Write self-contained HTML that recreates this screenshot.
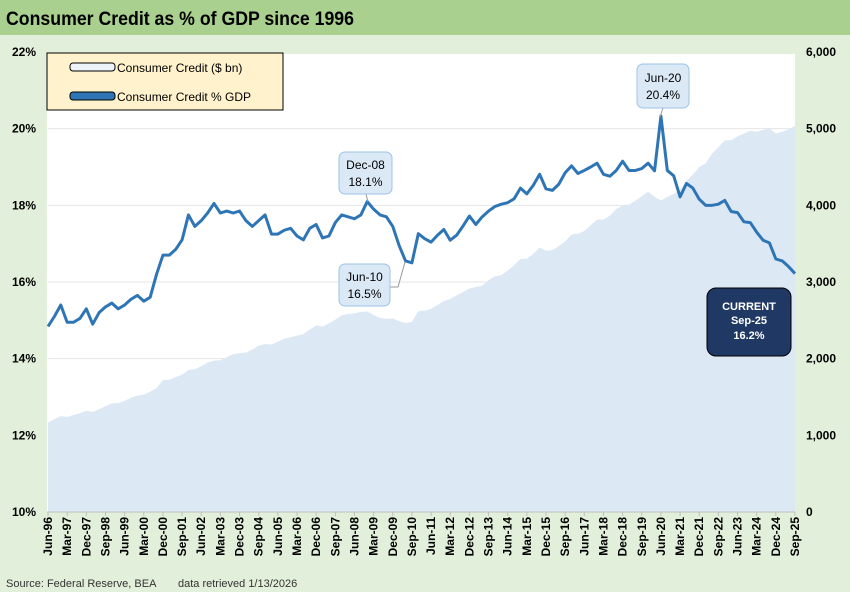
<!DOCTYPE html>
<html><head><meta charset="utf-8"><style>
body{margin:0;background:#e2efda;font-family:"Liberation Sans",sans-serif;}
svg{display:block}
text{font-family:"Liberation Sans",sans-serif;}
</style></head><body>
<svg width="850" height="592" viewBox="0 0 850 592">
<rect x="0" y="0" width="850" height="592" fill="#e2efda"/>
<rect x="0" y="0" width="850" height="35" fill="#a9d08e"/>
<text x="6" y="25" font-size="19" font-weight="bold" fill="#000" textLength="348" lengthAdjust="spacingAndGlyphs">Consumer Credit as % of GDP since 1996</text>
<rect x="47" y="54" width="748" height="458" fill="#fff"/>
<g id="grid"></g>
<path id="area" fill="#dde8f5"/>
<path id="line" fill="none" stroke="#2e75b6" stroke-width="3" stroke-linejoin="round"/>
<g id="axes"></g>
<text x="6" y="587" font-size="11" fill="#333">Source: Federal Reserve, BEA</text>
<text x="178" y="587" font-size="11" fill="#333">data retrieved 1/13/2026</text>
<g>
<rect x="47" y="53" width="236" height="57" fill="#fff2cc" stroke="#000" stroke-width="1"/>
<rect x="70" y="63" width="45" height="8" rx="3" fill="#eef3fa" stroke="#000" stroke-width="1"/>
<text x="117" y="72" font-size="12">Consumer Credit ($ bn)</text>
<rect x="70" y="92" width="45" height="8" rx="3" fill="#2e75b6" stroke="#000" stroke-width="1"/>
<text x="117" y="101" font-size="12">Consumer Credit % GDP</text>
</g>
<g>
<line x1="366" y1="194" x2="368" y2="202" stroke="#999"/>
<rect x="339" y="152" width="53" height="42" rx="6" fill="#dbe8f6" stroke="#9dc3e6"/>
<text x="365.5" y="169" font-size="12" text-anchor="middle">Dec-08</text>
<text x="365.5" y="186" font-size="12" text-anchor="middle">18.1%</text>
</g>
<g>
<polyline points="405,262 398,287 390,287" fill="none" stroke="#999"/>
<rect x="339" y="264" width="51" height="42" rx="6" fill="#dbe8f6" stroke="#9dc3e6"/>
<text x="364.5" y="281" font-size="12" text-anchor="middle">Jun-10</text>
<text x="364.5" y="298" font-size="12" text-anchor="middle">16.5%</text>
</g>
<g>
<line x1="663" y1="108" x2="660" y2="117" stroke="#999"/>
<rect x="637" y="64" width="52" height="44" rx="6" fill="#dbe8f6" stroke="#9dc3e6"/>
<text x="663" y="82" font-size="12" text-anchor="middle">Jun-20</text>
<text x="663" y="99" font-size="12" text-anchor="middle">20.4%</text>
</g>
<g>
<rect x="707" y="288" width="84" height="68" rx="9" fill="#1f3864" stroke="#000"/>
<text x="749" y="310" font-size="11" font-weight="bold" fill="#fff" text-anchor="middle">CURRENT</text>
<text x="749" y="324" font-size="11" font-weight="bold" fill="#fff" text-anchor="middle">Sep-25</text>
<text x="749" y="339" font-size="11" font-weight="bold" fill="#fff" text-anchor="middle">16.2%</text>
</g>
</svg>
<script>
const pctValues=[14.84,15.1,15.4,14.95,14.95,15.05,15.3,14.9,15.2,15.35,15.45,15.3,15.4,15.55,15.65,15.5,15.6,16.2,16.7,16.7,16.85,17.1,17.75,17.45,17.6,17.8,18.05,17.8,17.85,17.8,17.85,17.6,17.45,17.6,17.75,17.25,17.25,17.35,17.4,17.2,17.1,17.4,17.5,17.15,17.2,17.55,17.75,17.7,17.65,17.75,18.1,17.9,17.75,17.7,17.45,16.95,16.55,16.5,17.26,17.13,17.04,17.22,17.37,17.09,17.22,17.46,17.72,17.5,17.7,17.85,17.97,18.03,18.07,18.17,18.45,18.3,18.52,18.81,18.43,18.39,18.55,18.85,19.03,18.83,18.91,19.0,19.1,18.81,18.76,18.91,19.15,18.91,18.91,18.96,19.1,18.9,20.33,18.91,18.77,18.22,18.57,18.45,18.16,18.0,18.0,18.03,18.13,17.84,17.81,17.57,17.55,17.3,17.09,17.02,16.6,16.55,16.4,16.22];
const creditValues=[1165,1210,1250,1240,1265,1290,1320,1305,1340,1380,1417,1420,1450,1490,1520,1530,1570,1615,1720,1725,1760,1790,1850,1865,1900,1950,1974,1980,2020,2060,2070,2080,2120,2170,2190,2185,2220,2260,2280,2300,2320,2380,2435,2420,2460,2510,2565,2585,2590,2610,2615,2570,2530,2520,2525,2490,2465,2480,2620,2625,2650,2700,2750,2780,2825,2870,2915,2935,2950,3022,3075,3090,3150,3220,3300,3305,3365,3450,3410,3415,3470,3530,3620,3630,3665,3740,3813,3813,3865,3950,4000,4010,4060,4120,4180,4110,4065,4110,4150,4200,4320,4400,4500,4545,4674,4760,4848,4850,4900,4935,4975,4960,4985,5005,4935,4960,4990,5035];
const leftTicks=[10,12,14,16,18,20,22];
const rightTicks=[0,1000,2000,3000,4000,5000,6000];
const months=["Mar","Jun","Sep","Dec"];
const NS="http://www.w3.org/2000/svg";
const X0=48,X1=795,Y0=512,Y1=52;
const n=pctValues.length;
function xs(i){return X0+(X1-X0)*i/(n-1);}
function yl(v){return Y0-(v-10)/12*(Y0-Y1);}
function yr(v){return Y0-v/6000*(Y0-Y1);}
function qLabel(i){const q=1+i;const m=months[q%4];const yr=(1996+Math.floor(q/4))%100;return m+"-"+String(yr).padStart(2,"0");}
const grid=document.getElementById("grid"),axes=document.getElementById("axes");
leftTicks.forEach(t=>{
 if(t>10&&t<22){const l=document.createElementNS(NS,"line");
 l.setAttribute("x1",X0);l.setAttribute("x2",X1);l.setAttribute("y1",yl(t));l.setAttribute("y2",yl(t));
 l.setAttribute("stroke","#e6e6e6");
 
 
 grid.appendChild(l);}
 const tx=document.createElementNS(NS,"text");
 tx.setAttribute("x",36);tx.setAttribute("y",yl(t)+4);tx.setAttribute("text-anchor","end");
 tx.setAttribute("font-size","12");tx.setAttribute("font-weight","bold");tx.textContent=t+"%";
 
 
 axes.appendChild(tx);
});
rightTicks.forEach(t=>{
 const tx=document.createElementNS(NS,"text");
 tx.setAttribute("x",806);tx.setAttribute("y",yr(t)+4);
 tx.setAttribute("font-size","12");tx.setAttribute("font-weight","bold");tx.textContent=t.toLocaleString("en-US");
 
 
 axes.appendChild(tx);
});
let a="M"+xs(0)+","+Y0;
creditValues.forEach((v,i)=>{a+=" L"+xs(i).toFixed(2)+","+yr(v).toFixed(2);});
a+=" L"+xs(n-1)+","+Y0+" Z";
document.getElementById("area").setAttribute("d",a);
let p="";
pctValues.forEach((v,i)=>{p+=(i?" L":"M")+xs(i).toFixed(2)+","+yl(v).toFixed(2);});
document.getElementById("line").setAttribute("d",p);
const ax=document.createElementNS(NS,"line");
ax.setAttribute("x1",X0-1);ax.setAttribute("x2",X1);ax.setAttribute("y1",Y0);ax.setAttribute("y2",Y0);ax.setAttribute("stroke","#bfbfbf");


axes.appendChild(ax);
for(let i=0;i<n;i+=3){
 const x=xs(i);
 const tk=document.createElementNS(NS,"line");
 tk.setAttribute("x1",x);tk.setAttribute("x2",x);tk.setAttribute("y1",Y0);tk.setAttribute("y2",Y0+4);tk.setAttribute("stroke","#bfbfbf");
 
 
 axes.appendChild(tk);
 const tx=document.createElementNS(NS,"text");
 tx.setAttribute("transform","translate("+(x+4)+",517) rotate(-90)");
 tx.setAttribute("text-anchor","end");tx.setAttribute("font-size","12");tx.setAttribute("font-weight","bold");
 tx.textContent=qLabel(i);
 
 
 axes.appendChild(tx);
}
</script>
</body></html>
